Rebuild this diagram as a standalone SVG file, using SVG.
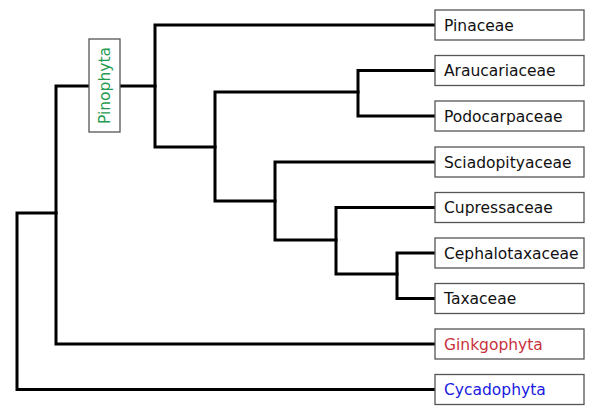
<svg xmlns="http://www.w3.org/2000/svg" width="597" height="417" viewBox="0 0 597 417">
<style>
.box{fill:#fff;stroke:#555;stroke-width:1.3}
.lbl{font-family:"DejaVu Sans",sans-serif;font-size:15.5px;fill:#111}
.edge{fill:none;stroke:#000;stroke-width:3;stroke-linecap:square;stroke-linejoin:miter}
</style>
<rect width="597" height="417" fill="#fff"/>
<g id="connectors">
<path class="edge" d="M435,389.5 H17 V213 H56"/>
<path class="edge" d="M435,344 H56 V86 H155"/>
<path class="edge" d="M435,25 H155 V147 H215"/>
<path class="edge" d="M358,92 H215 V201 H275"/>
<path class="edge" d="M435,70.5 H358 V116 H435"/>
<path class="edge" d="M435,162 H275 V240 H336"/>
<path class="edge" d="M435,207.5 H336 V274 H397"/>
<path class="edge" d="M435,253 H397 V298.5 H435"/>
</g>
<g id="pinophyta">
<rect class="box" x="89" y="39" width="31" height="93"/>
<text class="lbl" transform="translate(104.5,85.5) rotate(-90)" text-anchor="middle" dominant-baseline="central" style="fill:#1f9a4e">Pinophyta</text>
</g>
<g id="pinaceae"><rect class="box" x="435" y="10" width="149" height="30"/><text class="lbl" x="444" y="30.5">Pinaceae</text></g>
<g id="araucariaceae"><rect class="box" x="435" y="55.5" width="149" height="30"/><text class="lbl" x="444" y="76">Araucariaceae</text></g>
<g id="podocarpaceae"><rect class="box" x="435" y="101" width="149" height="30"/><text class="lbl" x="444" y="121.5">Podocarpaceae</text></g>
<g id="sciadopityaceae"><rect class="box" x="435" y="147" width="149" height="30"/><text class="lbl" x="444" y="167.5">Sciadopityaceae</text></g>
<g id="cupressaceae"><rect class="box" x="435" y="192.5" width="149" height="30"/><text class="lbl" x="444" y="213">Cupressaceae</text></g>
<g id="cephalotaxaceae"><rect class="box" x="435" y="238" width="149" height="30"/><text class="lbl" x="444" y="258.5">Cephalotaxaceae</text></g>
<g id="taxaceae"><rect class="box" x="435" y="283.5" width="149" height="30"/><text class="lbl" x="444" y="304">Taxaceae</text></g>
<g id="ginkgophyta"><rect class="box" x="435" y="329" width="149" height="30"/><text class="lbl" x="444" y="349.5" style="fill:#c8323c">Ginkgophyta</text></g>
<g id="cycadophyta"><rect class="box" x="435" y="374.5" width="149" height="30"/><text class="lbl" x="444" y="395" style="fill:#1a1ae0">Cycadophyta</text></g>
</svg>
